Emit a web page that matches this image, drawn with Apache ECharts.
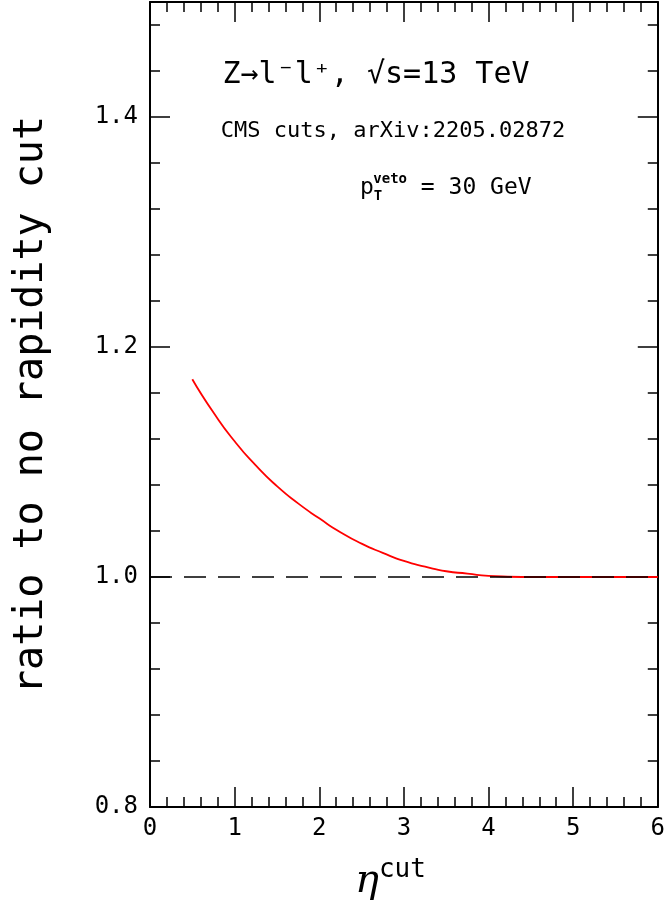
<!DOCTYPE html><html><head><meta charset="utf-8"><script src="https://cdn.jsdelivr.net/npm/echarts@6/dist/echarts.min.js"></script></head><body style="margin:0"><div id="c" style="width:668px;height:913px"></div><script>
const etaCut=[0.5,0.75,1,1.25,1.5,1.75,2,2.25,2.5,2.75,3,3.25,3.5,3.75,4,4.5,5,5.5,6];
const ratio=[1.172,1.143,1.118,1.097,1.079,1.064,1.051,1.039,1.029,1.021,1.014,1.009,1.005,1.003,1.001,1.000,1.000,1.000,1.000];
const refLine=[[0,1],[6,1]];
const F='DejaVu Sans Mono';
const c=echarts.init(document.getElementById('c'));
const ax=(pos,show)=>({position:pos,axisLine:{onZero:false,lineStyle:{color:'#000',width:2}},axisTick:{inside:true,length:20,lineStyle:{color:'#000',width:1.5}},minorTick:{show:true,length:10,splitNumber:5,lineStyle:{color:'#000',width:1.5}},splitLine:{show:false},axisLabel:{show:show,color:'#000',fontSize:24,fontFamily:F,margin:10,showMaxLabel:false}});
c.setOption({animation:false,grid:{left:150,right:10,top:2,bottom:106},
xAxis:[Object.assign({type:'value',min:0,max:6,interval:1},ax('bottom',true),{axisLabel:{color:'#000',fontSize:24,fontFamily:F,margin:10}}),Object.assign({type:'value',min:0,max:6,interval:1},ax('top',false))],
yAxis:[Object.assign({type:'value',min:0.8,max:1.5,interval:0.2},ax('left',true),{axisLabel:{color:'#000',fontSize:24,fontFamily:F,margin:12,showMaxLabel:false,formatter:v=>v.toFixed(1)}}),Object.assign({type:'value',min:0.8,max:1.5,interval:0.2},ax('right',false))],
series:[{type:'line',data:etaCut.map((x,i)=>[x,ratio[i]]),smooth:0.6,symbol:'none',lineStyle:{color:'#f00',width:1.8}},
{type:'line',data:refLine,symbol:'none',lineStyle:{color:'#000',width:1.5,type:[22,12]}}],
graphic:[
{type:'text',style:{text:'Z→l⁻l⁺, √s=13 TeV',x:376,y:75,align:'center',verticalAlign:'middle',font:'30px '+F,fill:'#000'}},
{type:'text',style:{text:'CMS cuts, arXiv:2205.02872',x:393,y:131,align:'center',verticalAlign:'middle',font:'22px '+F,fill:'#000'}},
{type:'text',style:{text:'{b|p}{s|T}{u|veto}{b| = 30 GeV}',x:360,y:188,verticalAlign:'middle',rich:{b:{font:'23px '+F,fill:'#000'},s:{font:'bold 14px '+F,fill:'#000',padding:[16,0,0,0]},u:{font:'bold 14px '+F,fill:'#000',padding:[0,0,18,-9]}}}},
{type:'text',style:{text:'{e|η}{u|cut}',x:355,y:882,verticalAlign:'middle',rich:{e:{font:'italic 40px DejaVu Serif',fill:'#000'},u:{font:'26px '+F,fill:'#000',padding:[0,0,24,0]}}}},
{type:'text',rotation:Math.PI/2,x:32,y:405,style:{text:'ratio to no rapidity cut',align:'center',verticalAlign:'middle',font:'40px '+F,fill:'#000'}}
]});
</script></body></html>
